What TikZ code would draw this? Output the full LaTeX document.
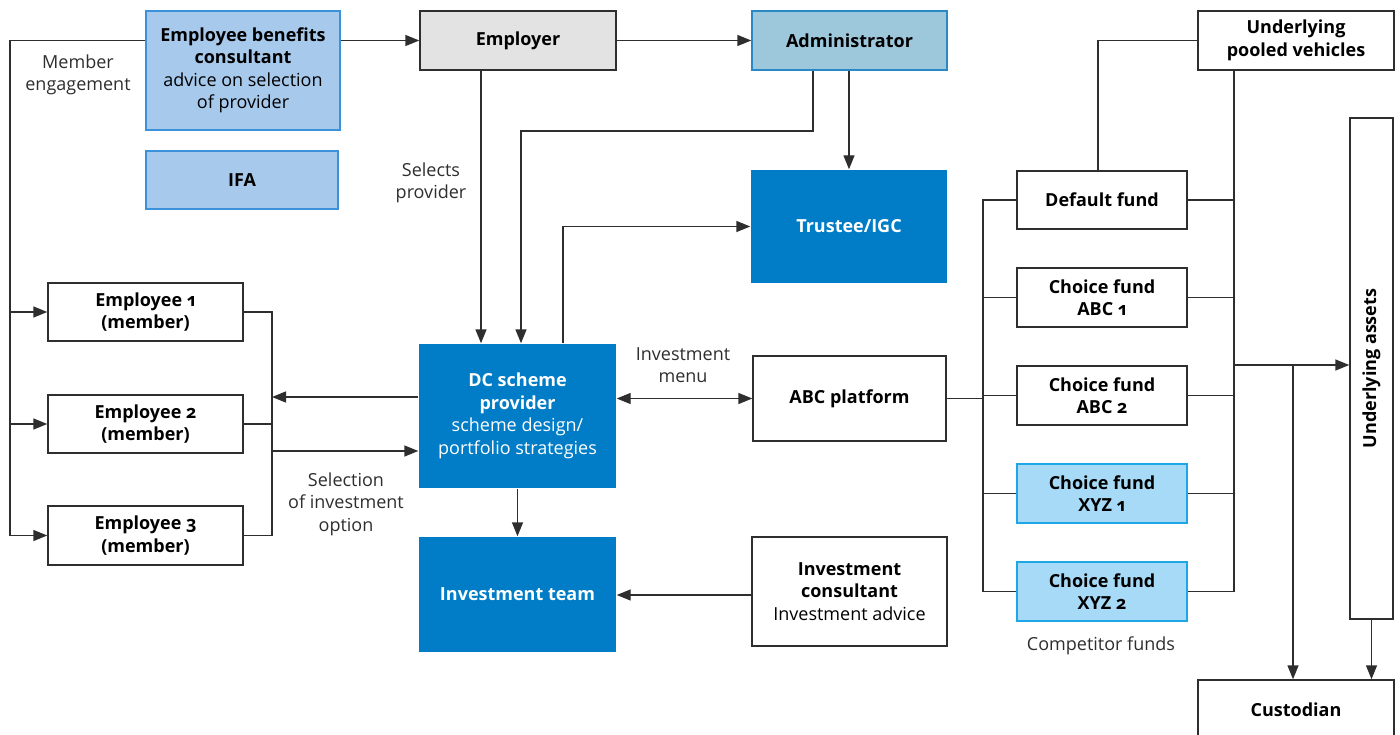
\documentclass[tikz,border=0pt]{standalone}
\usepackage{fontspec}
\setmainfont{Open Sans}[Numbers=OldStyle]
\usetikzlibrary{arrows.meta}
\definecolor{lc}{HTML}{2E2E2E}
\definecolor{ebcfill}{HTML}{A7C9EC}
\definecolor{ebcdraw}{HTML}{3C92DA}
\definecolor{admfill}{HTML}{9DC8DB}
\definecolor{admdraw}{HTML}{2A88C4}
\definecolor{dblue}{HTML}{007DC6}
\definecolor{xyzfill}{HTML}{A6DAF6}
\definecolor{xyzdraw}{HTML}{1DA7E6}
\definecolor{grayfill}{HTML}{E3E3E3}
\newcommand\myfs{\fontsize{18}{22.5}\selectfont}
\begin{document}
\begin{tikzpicture}[x=1pt,y=-1pt,
  box/.style={draw=lc, line width=1.4pt, rectangle, inner sep=2pt, align=center, font=\myfs, text=black},
  bluebox/.style={box, draw=none, fill=dblue, text=white},
  lbl/.style={align=center, font=\myfs, text=lc, inner sep=0pt},
  ln/.style={draw=lc, line width=1.4pt},
  arr/.style={ln, -{Triangle[length=14pt,width=11pt]}},
  darr/.style={ln, {Triangle[length=14pt,width=11pt]}-{Triangle[length=14pt,width=11pt]}}]
\useasboundingbox (0,0) rectangle (1400,735);
\clip (0,0) rectangle (1400,735);

% nodes
\node[box, fill=ebcfill, draw=ebcdraw, minimum width=194pt, minimum height=119pt] (ebc) at (243,70.5)
  {\textbf{Employee benefits}\\\textbf{consultant}\\advice on selection\\of provider};
\node[box, fill=ebcfill, draw=ebcdraw, minimum width=192pt, minimum height=58pt] (ifa) at (242,180) {\textbf{IFA}};
\node[box, fill=grayfill, minimum width=196pt, minimum height=59pt] (employer) at (518,40.5) {\textbf{Employer}};
\node[box, fill=admfill, draw=admdraw, minimum width=195pt, minimum height=59pt] (admin) at (849.5,40.5) {\textbf{Administrator}};
\node[bluebox, minimum width=196pt, minimum height=113pt] (trustee) at (849,226.5) {\textbf{Trustee/IGC}};
\node[box, minimum width=195pt, minimum height=58pt] (emp1) at (145.5,312) {\textbf{Employee 1}\\\textbf{(member)}};
\node[box, minimum width=195pt, minimum height=58pt] (emp2) at (145.5,424) {\textbf{Employee 2}\\\textbf{(member)}};
\node[box, minimum width=195pt, minimum height=59pt] (emp3) at (145.5,535.5) {\textbf{Employee 3}\\\textbf{(member)}};
\node[bluebox, minimum width=197pt, minimum height=144pt] (dc) at (517.5,416)
  {\textbf{DC scheme}\\\textbf{provider}\\scheme design/\\portfolio strategies};
\node[bluebox, minimum width=197pt, minimum height=115pt] (invteam) at (517.5,594.5) {\textbf{Investment team}};
\node[box, minimum width=193pt, minimum height=85pt] (abc) at (849.5,398.5) {\textbf{ABC platform}};
\node[box, minimum width=195pt, minimum height=109pt] (invcons) at (849.5,591.5)
  {\textbf{Investment}\\\textbf{consultant}\\Investment advice};
\node[box, minimum width=196pt, minimum height=59pt] (upv) at (1296,40.5) {\textbf{Underlying}\\\textbf{pooled vehicles}};
\node[box, minimum width=170pt, minimum height=58pt] (deflt) at (1102,200) {\textbf{Default fund}};
\node[box, minimum width=170pt, minimum height=59pt] (abc1) at (1102,297.5) {\textbf{Choice fund}\\\textbf{ABC 1}};
\node[box, minimum width=170pt, minimum height=59pt] (abc2) at (1102,395.5) {\textbf{Choice fund}\\\textbf{ABC 2}};
\node[box, fill=xyzfill, draw=xyzdraw, minimum width=170pt, minimum height=59pt] (xyz1) at (1102,493.5) {\textbf{Choice fund}\\\textbf{XYZ 1}};
\node[box, fill=xyzfill, draw=xyzdraw, minimum width=170pt, minimum height=59pt] (xyz2) at (1102,591.5) {\textbf{Choice fund}\\\textbf{XYZ 2}};
\node[box, minimum width=43pt, minimum height=501pt] (ua) at (1371.5,368.5) {};
\node[font=\myfs\bfseries, rotate=90, inner sep=0pt] (uat) at (ua.center) {Underlying assets};
\node[box, minimum width=196pt, minimum height=60pt] (cust) at (1296,710) {\textbf{Custodian}};

% labels
\node[lbl] (lme) at (78,75) {Member\\engagement};
\node[lbl] (lsp) at (431,183) {Selects\\provider};
\node[lbl] (lsel) at (346,504) {Selection\\of investment\\option};
\node[lbl] (lmenu) at (683,365) {Investment\\menu};
\node[lbl] (lcomp) at (1101,646) {Competitor funds};

% coordinates for buses
\coordinate (L) at (10,0);
\coordinate (B) at (272,0);
\coordinate (F) at (983,0);
\coordinate (R) at (1234,0);

% left member engagement bus
\draw[ln] (ebc.west |- employer.west) -| (L |- emp3.west);
\draw[arr] (L |- emp1.west) -- (emp1.west);
\draw[arr] (L |- emp2.west) -- (emp2.west);
\draw[arr] (L |- emp3.west) -- (emp3.west);

% top row
\draw[arr] (ebc.east |- employer.west) -- (employer.west);
\draw[arr] (employer.east) -- (admin.west);

% employer selects provider
\draw[arr] (employer.south -| 481,0) -- (dc.north -| 481,0);
% administrator to provider
\draw[arr] (admin.south -| 813,0) -- (813,131) -| (dc.north -| 521,0);
% administrator to trustee
\draw[arr] (admin.south -| trustee.north) -- (trustee.north);
% provider to trustee
\draw[arr] (dc.north -| 563,0) |- (trustee.west);

% employees bracket
\draw[ln] (emp1.east) -| (B |- emp3.east) -- (emp3.east);
\draw[ln] (emp2.east) -- (B |- emp2.east);
\draw[arr] (dc.west |- 0,397) -- (B |- 0,397);
\draw[arr] (B |- 0,451) -- (dc.west |- 0,451);

% provider to platform, investment team
\draw[darr] (dc.east |- abc.west) -- (abc.west);
\draw[arr] (dc.south) -- (invteam.north);
\draw[arr] (invcons.west |- 0,595) -- (invteam.east |- 0,595);

% platform to funds
\draw[ln] (abc.east) -- (F |- abc.east);
\draw[ln] (deflt.west) -| (F |- xyz2.west) -- (xyz2.west);
\draw[ln] (F |- abc1.west) -- (abc1.west);
\draw[ln] (F |- abc2.west) -- (abc2.west);
\draw[ln] (F |- xyz1.west) -- (xyz1.west);

% funds to pooled vehicles bus
\draw[ln] (upv.south -| R) -- (R |- xyz2.east) -- (xyz2.east);
\draw[ln] (deflt.east) -- (R |- deflt.east);
\draw[ln] (abc1.east) -- (R |- abc1.east);
\draw[ln] (abc2.east) -- (R |- abc2.east);
\draw[ln] (xyz1.east) -- (R |- xyz1.east);
\draw[ln] (deflt.north -| 1098,0) |- (upv.west);

% to underlying assets and custodian
\draw[arr] (R |- 0,365) -- (ua.west |- 0,365);
\draw[arr] (1293,365) -- (cust.north -| 1293,0);
\draw[arr] (ua.south) -- (cust.north -| ua.south);
\end{tikzpicture}
\end{document}
